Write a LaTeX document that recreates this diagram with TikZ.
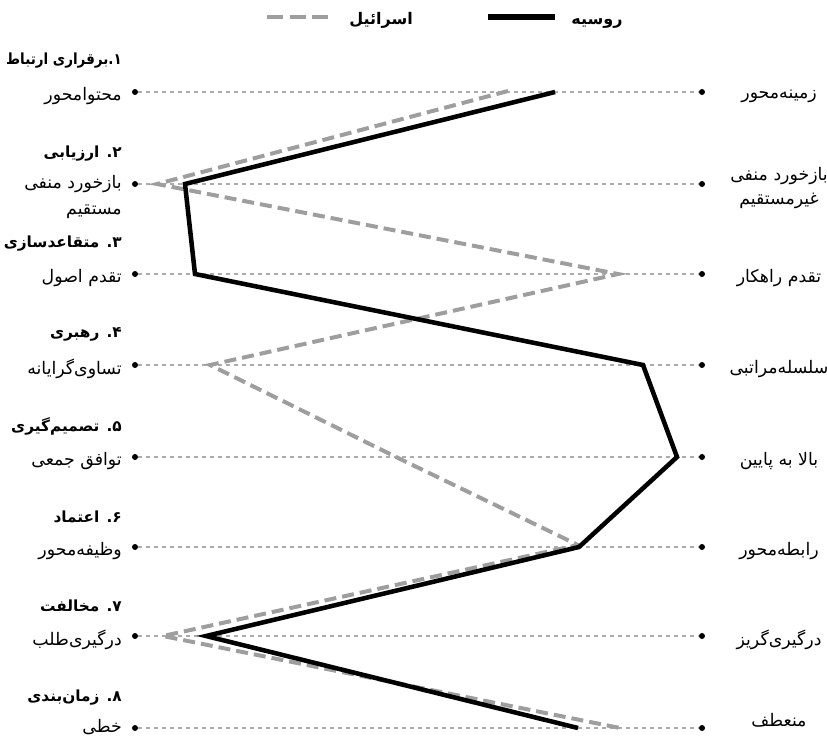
\documentclass[tikz,border=0pt]{standalone}
\usepackage{fontspec}
\newfontfamily\arabicfont[Script=Arabic]{DejaVu Sans}
\newfontfamily\arabicnarrow[Script=Arabic, FakeStretch=0.88]{DejaVu Sans}
\TeXXeTstate=1
\newcommand{\fa}[1]{{\arabicfont\beginR #1\endR}}
\newcommand{\fanarrow}[1]{{\arabicnarrow\beginR #1\endR}}
\definecolor{gridgray}{RGB}{172,172,172}
\definecolor{isrgray}{RGB}{158,158,158}

\begin{document}
\begin{tikzpicture}[x=0.75pt,y=-0.75pt,
  grid/.style={gridgray, line width=1.5pt, dash pattern=on 3pt off 3pt},
  rus/.style={black, line width=3.4pt, line join=miter},
  isr/.style={isrgray, line width=3pt, dash pattern=on 9pt off 4.5pt},
  dot/.style={circle, fill=black, inner sep=0, minimum size=4.5pt},
  lbl/.style={font=\fontsize{13}{19.5}\selectfont, inner sep=0, yshift=-3pt},
  ttl/.style={font=\fontsize{11.5}{18}\selectfont\bfseries, inner sep=0, anchor=east, yshift=-2pt},
  key/.style={font=\fontsize{12}{18}\selectfont\bfseries, inner sep=0, yshift=-3pt}]
\useasboundingbox (0,0) rectangle (827,739);

% LEGEND
\node[key] (kru) at (597,20) {\fa{روسیه}};
\coordinate (kru a) at (488,17);
\coordinate (kru b) at (555,17);
\draw[rus, line width=4.8pt, line cap=butt] (kru a) -- (kru b);
\node[key] (kis) at (381,16) {\fa{اسرائیل}};
\coordinate (kis a) at (267,17);
\coordinate (kis b) at (332,17);
\draw[isr, dash pattern=on 12pt off 5pt] (kis a) -- (kis b);

% ROWS
\node[dot] (l1) at (135,92) {};  \node[dot] (r1) at (702,92) {};
\node[dot] (l2) at (135,184) {}; \node[dot] (r2) at (702,184) {};
\node[dot] (l3) at (135,274) {}; \node[dot] (r3) at (702,274) {};
\node[dot] (l4) at (135,365) {}; \node[dot] (r4) at (702,365) {};
\node[dot] (l5) at (135,457) {}; \node[dot] (r5) at (702,457) {};
\node[dot] (l6) at (135,547) {}; \node[dot] (r6) at (702,547) {};
\node[dot] (l7) at (135,636) {}; \node[dot] (r7) at (702,636) {};
\node[dot] (l8) at (135,728) {}; \node[dot] (r8) at (702,728) {};
\draw[grid] (l1) -- (r1);
\draw[grid] (l2) -- (r2);
\draw[grid] (l3) -- (r3);
\draw[grid] (l4) -- (r4);
\draw[grid] (l5) -- (r5);
\draw[grid] (l6) -- (r6);
\draw[grid] (l7) -- (r7);
\draw[grid] (l8) -- (r8);

% ISRAEL
\coordinate (is1) at (508,91);
\coordinate (is2) at (157,184);
\coordinate (is3) at (618,274);
\coordinate (is4) at (210,365);
\coordinate (is5) at (394,456);
\coordinate (is6) at (578,545);
\coordinate (is7) at (163,636);
\coordinate (is8) at (620,728);
\draw[isr] (is1) -- (is2) -- (is3) -- (is4) -- (is5) -- (is6) -- (is7) -- (is8);

% RUSSIA
\coordinate (ru1) at (555,92);
\coordinate (ru2) at (185,184);
\coordinate (ru3) at (195,274);
\coordinate (ru4) at (643,365);
\coordinate (ru5) at (677,457);
\coordinate (ru6) at (579,547);
\coordinate (ru7) at (206,636);
\coordinate (ru8) at (578,728);
\draw[rus] (ru1) -- (ru2) -- (ru3) -- (ru4) -- (ru5) -- (ru6) -- (ru7) -- (ru8);

% TITLES
\node[ttl] (t1) at (122,58) {\fanarrow{۱\kern0pt.برقراری ارتباط}};
\node[ttl] (t2) at (122,151) {\fa{۲\kern0pt. ارزیابی}};
\node[ttl] (t3) at (122,241) {\fa{۳\kern0pt. متقاعدسازی}};
\node[ttl] (t4) at (122,332) {\fa{۴\kern0pt. رهبری}};
\node[ttl] (t5) at (122,424) {\fa{۵\kern0pt. تصمیم^^^^200cگیری}};
\node[ttl] (t6) at (122,514) {\fa{۶\kern0pt. اعتماد}};
\node[ttl] (t7) at (122,603) {\fa{۷\kern0pt. مخالفت}};
\node[ttl] (t8) at (122,695) {\fa{۸\kern0pt. زمان^^^^200cبندی}};

% LEFT LABELS
\node[lbl, anchor=east] (a1) at (122,92) {\fa{محتوامحور}};
\node[lbl, anchor=north east, align=right] (a2) at (122,171) {\fa{بازخورد منفی}\\\fa{مستقیم}};
\node[lbl, anchor=east] (a3) at (122,274) {\fa{تقدم اصول}};
\node[lbl, anchor=east] (a4) at (122,365) {\fa{تساوی^^^^200cگرایانه}};
\node[lbl, anchor=east] (a5) at (122,457) {\fa{توافق جمعی}};
\node[lbl, anchor=east] (a6) at (122,547) {\fa{وظیفه^^^^200cمحور}};
\node[lbl, anchor=east] (a7) at (122,636) {\fa{درگیری^^^^200cطلب}};
\node[lbl, anchor=east] (a8) at (122,723) {\fa{خطی}};

% RIGHT LABELS
\node[lbl] (b1) at (779,92) {\fa{زمینه^^^^200cمحور}};
\node[lbl, align=center, font=\fontsize{13}{18}\selectfont] (b2) at (779,184) {\fa{بازخورد منفی}\\\fa{غیرمستقیم}};
\node[lbl] (b3) at (779,274) {\fa{تقدم راهکار}};
\node[lbl] (b4) at (779,365) {\fa{سلسله^^^^200cمراتبی}};
\node[lbl] (b5) at (779,457) {\fa{بالا به پایین}};
\node[lbl] (b6) at (779,547) {\fa{رابطه^^^^200cمحور}};
\node[lbl] (b7) at (779,636) {\fa{درگیری^^^^200cگریز}};
\node[lbl] (b8) at (779,716) {\fa{منعطف}};
\end{tikzpicture}
\end{document}
